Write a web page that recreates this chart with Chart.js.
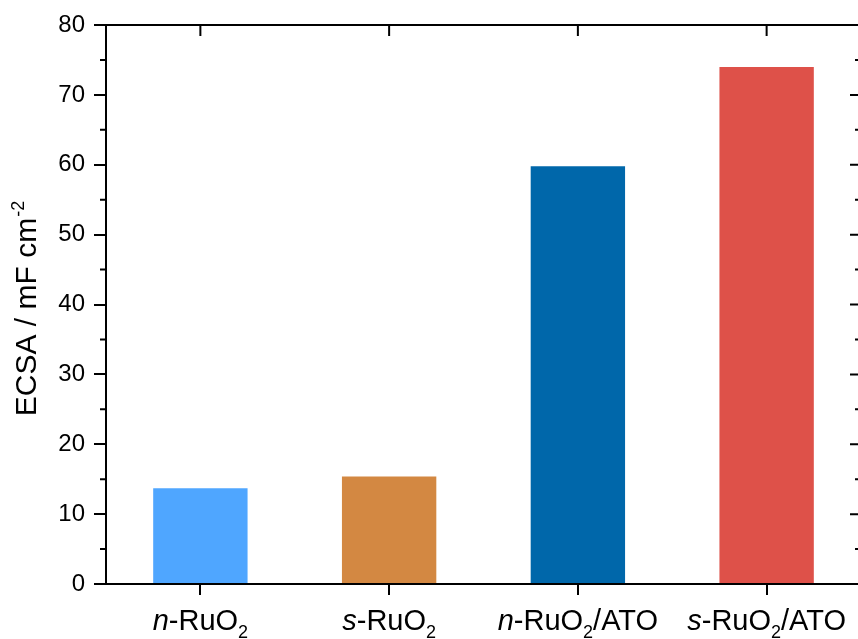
<!DOCTYPE html>
<html>
<head>
<meta charset="utf-8">
<script src="https://cdn.jsdelivr.net/npm/chart.js@4/dist/chart.umd.min.js"></script>
<style>
  html, body { margin: 0; padding: 0; background: #fff; overflow: hidden; }
  #wrap { width: 864px; height: 639px; }
</style>
</head>
<body>
<div id="wrap"><canvas id="chart" width="864" height="639"></canvas></div>
<script>
// label parts: [italic prefix, text before subscript, subscript, text after]
const labelParts = [
  ['n', '-RuO', '2', ''],
  ['s', '-RuO', '2', ''],
  ['n', '-RuO', '2', '/ATO'],
  ['s', '-RuO', '2', '/ATO']
];
const categories = ['n-RuO2', 's-RuO2', 'n-RuO2/ATO', 's-RuO2/ATO'];
const ecsaValues = [13.7, 15.4, 59.8, 74.0];
const barColors = ['#4FA6FF', '#D38842', '#0067AA', '#DE5149'];
const yTicks = [0, 10, 20, 30, 40, 50, 60, 70, 80];

const FONT = '"Liberation Sans", Arial, sans-serif';

const framePlugin = {
  id: 'frame',
  afterDraw(chart) {
    const ctx = chart.ctx;
    const area = chart.chartArea;
    const x = chart.scales.x;
    const y = chart.scales.y;
    ctx.save();
    ctx.strokeStyle = '#000';
    ctx.lineWidth = 2;

    // top and right border
    ctx.beginPath();
    ctx.moveTo(area.left - 1, area.top);
    ctx.lineTo(area.right + 1, area.top);
    ctx.moveTo(area.right, area.top);
    ctx.lineTo(area.right, area.bottom);
    ctx.stroke();

    // top ticks (inward)
    ctx.beginPath();
    categories.forEach((c, i) => {
      const px = x.getPixelForValue(i);
      ctx.moveTo(px, area.top);
      ctx.lineTo(px, area.top + 11);
    });
    // right ticks (inward), left minor ticks (outward)
    for (let v = 0; v <= 80; v += 5) {
      const py = y.getPixelForValue(v);
      const len = v % 10 === 0 ? 11 : 6;
      ctx.moveTo(area.right, py);
      ctx.lineTo(area.right - len, py);
      if (v % 10 !== 0) {
        ctx.moveTo(area.left, py);
        ctx.lineTo(area.left - 6, py);
      }
    }
    ctx.stroke();

    // x labels with italic prefix and subscript
    ctx.fillStyle = '#000';
    ctx.textBaseline = 'alphabetic';
    ctx.textAlign = 'left';
    const main = '29px ' + FONT;
    const ital = 'italic 29px ' + FONT;
    const small = '18px ' + FONT;
    labelParts.forEach((p, i) => {
      ctx.font = ital; const w0 = ctx.measureText(p[0]).width;
      ctx.font = main; const w1 = ctx.measureText(p[1]).width;
      ctx.font = small; const w2 = ctx.measureText(p[2]).width;
      ctx.font = main; const w3 = ctx.measureText(p[3]).width;
      let cx = x.getPixelForValue(i) - (w0 + w1 + w2 + w3) / 2;
      const base = 630;
      ctx.font = ital; ctx.fillText(p[0], cx, base); cx += w0;
      ctx.font = main; ctx.fillText(p[1], cx, base); cx += w1;
      ctx.font = small; ctx.fillText(p[2], cx, base + 8); cx += w2;
      ctx.font = main; ctx.fillText(p[3], cx, base);
    });

    // y title with superscript
    ctx.translate(36, 309);
    ctx.rotate(-Math.PI / 2);
    ctx.font = '30px ' + FONT; const t1 = 'ECSA / mF cm'; const tw1 = ctx.measureText(t1).width;
    ctx.font = '18px ' + FONT; const t2 = '-2'; const tw2 = ctx.measureText(t2).width;
    const sx = -(tw1 + tw2) / 2;
    ctx.font = '30px ' + FONT; ctx.fillText(t1, sx, 0);
    ctx.font = '18px ' + FONT; ctx.fillText(t2, sx + tw1 + 1, -12);
    ctx.restore();
  }
};

new Chart(document.getElementById('chart'), {
  type: 'bar',
  data: {
    labels: categories,
    datasets: [{
      data: ecsaValues,
      backgroundColor: barColors,
      borderWidth: 0,
      barPercentage: 0.5,
      categoryPercentage: 1.0
    }]
  },
  options: {
    responsive: false,
    animation: false,
    layout: { padding: { top: 25, right: 3, left: 0, bottom: 0 } },
    plugins: {
      legend: { display: false },
      tooltip: { enabled: false }
    },
    scales: {
      x: {
        offset: true,
        grid: {
          display: true,
          offset: false,
          drawOnChartArea: false,
          drawTicks: true,
          tickLength: 11,
          color: '#000',
          lineWidth: 2
        },
        border: { display: true, color: '#000', width: 2 },
        ticks: { display: false },
        afterFit(scale) { scale.height = 55; }
      },
      y: {
        min: 0,
        max: 80,
        afterBuildTicks(scale) { scale.ticks = yTicks.map(v => ({ value: v })); },
        grid: {
          display: true,
          drawOnChartArea: false,
          drawTicks: true,
          tickLength: 12,
          color: '#000',
          lineWidth: 2
        },
        border: { display: true, color: '#000', width: 2 },
        ticks: {
          color: '#000',
          padding: 9,
          font: { size: 24, family: FONT }
        },
        afterFit(scale) { scale.width = 106; }
      }
    }
  },
  plugins: [framePlugin]
});
</script>
</body>
</html>
